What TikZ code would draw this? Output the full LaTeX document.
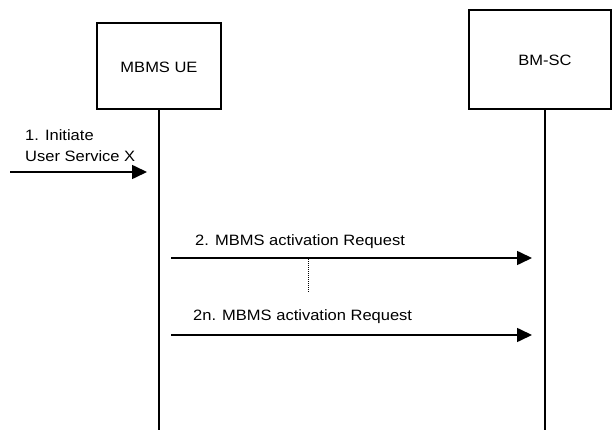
\documentclass[tikz,border=0pt]{standalone}
\usepackage{fontspec}
\setmainfont{Liberation Sans}[FakeStretch=1.1]
\usetikzlibrary{arrows.meta}
\begin{document}
\begin{tikzpicture}[x=1pt,y=-1pt,
  every node/.style={font=\fontsize{15}{21}\selectfont, inner sep=0pt},
  entity/.style={draw, line width=1.6pt, rectangle, inner sep=0pt},
  life/.style={line width=1.6pt},
  msg/.style={line width=1.6pt, -{Triangle[length=15pt,width=14pt]}},
  lbl/.style={anchor=west, align=left}]
\useasboundingbox (0,0) rectangle (612,430);
% entities
\node[entity, minimum width=124pt, minimum height=86pt] (ue) at (159,66) {};
\node (uelbl) at (159,67) {MBMS UE};
\node[entity, minimum width=142pt, minimum height=99pt] (bmsc) at (540,59.5) {};
\node (bmsclbl) at (545,60) {BM-SC};
% lifelines
\coordinate (uetop) at (159,109);
\coordinate (uebot) at (159,431);
\coordinate (bmtop) at (545,109);
\coordinate (bmbot) at (545,431);
\draw[life] (uetop) -- (uebot);
\draw[life] (bmtop) -- (bmbot);
% message 1
\coordinate (m1s) at (10,172);
\coordinate (m1e) at (147,172);
\draw[msg] (m1s) -- (m1e);
\node[lbl] (l1) at (25,145.5) {1. Initiate\\User Service X};
% message 2
\coordinate (m2s) at (171,258);
\coordinate (m2e) at (532,258);
\draw[msg] (m2s) -- (m2e);
\node[lbl] (l2) at (195,242) {2. MBMS activation Request};
% dotted
\coordinate (ds) at (308,259);
\coordinate (de) at (308,293);
\draw[line width=0.8pt, dash pattern=on 1pt off 1pt] (ds) -- (de);
% message 2n
\coordinate (m3s) at (171,335);
\coordinate (m3e) at (532,335);
\draw[msg] (m3s) -- (m3e);
\node[lbl] (l3) at (193,317) {2n. MBMS activation Request};
\end{tikzpicture}
\end{document}
